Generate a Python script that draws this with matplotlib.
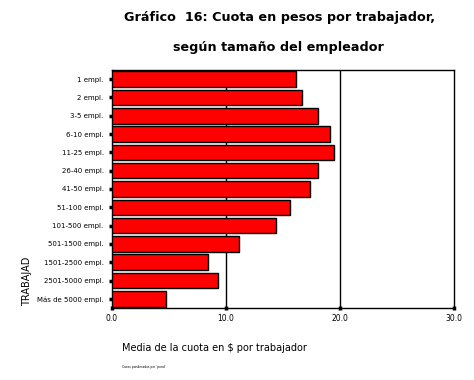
import matplotlib
matplotlib.use("Agg")
import matplotlib.pyplot as plt
import numpy as np

categories = ["1 empl.", "2 empl.", "3-5 empl.", "6-10 empl.", "11-25 empl.",
              "26-40 empl.", "41-50 empl.", "51-100 empl.", "101-500 empl.",
              "501-1500 empl.", "1501-2500 empl.", "2501-5000 empl.",
              "Más de 5000 empl."]
values = [16.1, 16.7, 18.1, 19.1, 19.5, 18.1, 17.4, 15.6, 14.4, 11.1, 8.4, 9.3, 4.7]
xticks = [0.0, 10.0, 20.0, 30.0]
xticklabels = ["0.0", "10.0", "20.0", "30.0"]

fig = plt.figure(figsize=(4.74, 3.80), dpi=100)
ax = fig.add_axes([112/474, 1-308/380, (454-112)/474, (308-70)/380])

y = np.arange(len(categories))
ax.barh(y, values, height=0.85, color="#ff0000", edgecolor="black", linewidth=1.0, zorder=3)
ax.set_ylim(len(categories) - 0.5, -0.5)
ax.set_xlim(0, 30)
for xv in xticks[1:-1]:
    ax.axvline(xv, color="black", linewidth=1.0, zorder=1)

ax.set_yticks(y)
ax.set_yticklabels(categories, fontsize=5)
ax.set_xticks(xticks)
ax.set_xticklabels(xticklabels, fontsize=5.5)
ax.tick_params(axis="y", length=2, width=2.5, pad=4, direction="out")
ax.tick_params(axis="x", length=3, width=2.5, pad=3, direction="inout")
for s in ax.spines.values():
    s.set_linewidth(1.0)

fig.text(280/474, 1-17/380, "Gráfico  16: Cuota en pesos por trabajador,",
         ha="center", va="center", fontsize=9.2, fontweight="heavy", family="DejaVu Sans")
fig.text(278/474, 1-47/380, "según tamaño del empleador",
         ha="center", va="center", fontsize=9.2, fontweight="heavy", family="DejaVu Sans")
fig.text(27/474, 1-281/380, "TRABAJAD", rotation=90, ha="center", va="center", fontsize=7)
fig.text(122/474, 1-348/380, "Media de la cuota en $ por trabajador", ha="left", va="center",
         fontsize=7)
fig.text(122/474, 1-367/380, "Casos ponderados por 'pond'", ha="left", va="center", fontsize=2.2)

fig.savefig("out.png", dpi=100)
